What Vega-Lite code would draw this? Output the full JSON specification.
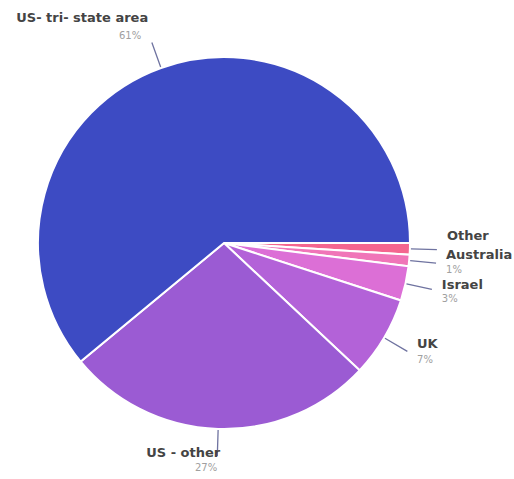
{
  "$schema": "https://vega.github.io/schema/vega-lite/v6.json",
  "autosize": "none",
  "width": 448,
  "height": 472,
  "padding": {"left": 0, "top": 7, "right": 66, "bottom": 0},
  "background": "white",
  "data": {
    "values": [
      {"label": "Other", "pct": "1%", "value": 1, "order": 1},
      {"label": "Australia", "pct": "1%", "value": 1, "order": 2},
      {"label": "Israel", "pct": "3%", "value": 3, "order": 3},
      {"label": "UK", "pct": "7%", "value": 7, "order": 4},
      {"label": "US - other", "pct": "27%", "value": 27, "order": 5},
      {"label": "US- tri- state area", "pct": "61%", "value": 61, "order": 6}
    ]
  },
  "transform": [
    {"stack": "value", "groupby": [], "sort": [{"field": "order"}], "as": ["v0", "v1"]},
    {"calculate": "(datum.v0 + datum.v1) / 2", "as": "mid"}
  ],
  "encoding": {
    "theta": {"field": "mid", "type": "quantitative", "stack": null,
      "scale": {"domain": [0, 100], "range": [1.5708, 7.854]}}
  },
  "layer": [
    {
      "mark": {"type": "arc", "outerRadius": 186, "stroke": "white", "strokeWidth": 2},
      "encoding": {
        "theta": {"field": "v0", "type": "quantitative", "stack": null,
          "scale": {"domain": [0, 100], "range": [1.5708, 7.854]}},
        "theta2": {"field": "v1"},
        "color": {"field": "label", "type": "nominal", "legend": null,
          "scale": {
            "domain": ["Other", "Australia", "Israel", "UK", "US - other", "US- tri- state area"],
            "range": ["#f4668f", "#f075b8", "#dc6fd6", "#b362d8", "#9b5bd3", "#3d4bc3"]
          }
        }
      }
    },
    {
      "mark": {"type": "arc", "innerRadius": 187, "outerRadius": 213, "stroke": "#6f73a0", "strokeWidth": 1.3, "fill": null},
      "encoding": {
        "theta2": {"field": "mid"}
      }
    },
    {
      "transform": [{"filter": "datum.order == 1"}],
      "mark": {"type": "text", "radius": 215, "align": "left", "baseline": "middle", "dx": 8, "dy": -14, "fontSize": 13, "fontWeight": "bold", "font": "DejaVu Sans", "fill": "#444444"},
      "encoding": {"text": {"field": "label"}}
    },
    {
      "transform": [{"filter": "datum.order == 2"}],
      "mark": {"type": "text", "radius": 215, "align": "left", "baseline": "middle", "dx": 8, "dy": -8, "fontSize": 13, "fontWeight": "bold", "font": "DejaVu Sans", "fill": "#444444"},
      "encoding": {"text": {"field": "label"}}
    },
    {
      "transform": [{"filter": "datum.order == 2"}],
      "mark": {"type": "text", "radius": 215, "align": "left", "baseline": "middle", "dx": 8, "dy": 7, "fontSize": 10, "font": "DejaVu Sans", "fill": "#a0a0a0"},
      "encoding": {"text": {"field": "pct"}}
    },
    {
      "transform": [{"filter": "datum.order == 3"}],
      "mark": {"type": "text", "radius": 215, "align": "left", "baseline": "middle", "dx": 8, "dy": -5, "fontSize": 13, "fontWeight": "bold", "font": "DejaVu Sans", "fill": "#444444"},
      "encoding": {"text": {"field": "label"}}
    },
    {
      "transform": [{"filter": "datum.order == 3"}],
      "mark": {"type": "text", "radius": 215, "align": "left", "baseline": "middle", "dx": 8, "dy": 9, "fontSize": 10, "font": "DejaVu Sans", "fill": "#a0a0a0"},
      "encoding": {"text": {"field": "pct"}}
    },
    {
      "transform": [{"filter": "datum.order == 4"}],
      "mark": {"type": "text", "radius": 215, "align": "left", "baseline": "middle", "dx": 8, "dy": -8, "fontSize": 13, "fontWeight": "bold", "font": "DejaVu Sans", "fill": "#444444"},
      "encoding": {"text": {"field": "label"}}
    },
    {
      "transform": [{"filter": "datum.order == 4"}],
      "mark": {"type": "text", "radius": 215, "align": "left", "baseline": "middle", "dx": 8, "dy": 8, "fontSize": 10, "font": "DejaVu Sans", "fill": "#a0a0a0"},
      "encoding": {"text": {"field": "pct"}}
    },
    {
      "transform": [{"filter": "datum.order == 6"}],
      "mark": {"type": "text", "radius": 215, "align": "right", "baseline": "middle", "dx": -3, "dy": -23, "fontSize": 13, "fontWeight": "bold", "font": "DejaVu Sans", "fill": "#444444"},
      "encoding": {"text": {"field": "label"}}
    },
    {
      "transform": [{"filter": "datum.order == 6"}],
      "mark": {"type": "text", "radius": 215, "align": "right", "baseline": "middle", "dx": -10, "dy": -5, "fontSize": 10, "font": "DejaVu Sans", "fill": "#a0a0a0"},
      "encoding": {"text": {"field": "pct"}}
    },
    {
      "transform": [{"filter": "datum.order == 5"}],
      "mark": {"type": "text", "radius": 215, "align": "right", "baseline": "middle", "dx": 3, "dy": -5, "fontSize": 13, "fontWeight": "bold", "font": "DejaVu Sans", "fill": "#444444"},
      "encoding": {"text": {"field": "label"}}
    },
    {
      "transform": [{"filter": "datum.order == 5"}],
      "mark": {"type": "text", "radius": 215, "align": "right", "baseline": "middle", "dx": 0, "dy": 10, "fontSize": 10, "font": "DejaVu Sans", "fill": "#a0a0a0"},
      "encoding": {"text": {"field": "pct"}}
    }
  ]
}
